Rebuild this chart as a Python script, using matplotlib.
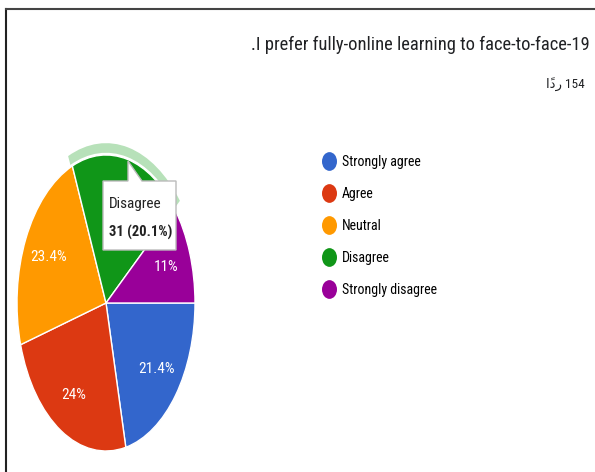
import matplotlib
matplotlib.use('Agg')
import matplotlib.pyplot as plt
from matplotlib import font_manager
from matplotlib.patches import Wedge, Polygon
from matplotlib.lines import Line2D
from matplotlib.path import Path
import numpy as np

# survey answers (154 responses)
categories = ['Strongly agree', 'Agree', 'Neutral', 'Disagree', 'Strongly disagree']
counts = [33, 37, 36, 31, 17]
pct_labels = ['21.4%', '24%', '23.4%', '', '11%']
colors = ['#3366cc', '#dc3912', '#ff9900', '#109618', '#990099']
title = '.I prefer fully-online learning to face-to-face-19'
# Arabic word written in visual (left-to-right) order, matplotlib does no bidi
arabic_word = '\u0627\u064b\u062f\u0631'
responses = arabic_word + ' 154'
tip_name = 'Disagree'
tip_value = '31 (20.1%)'
highlight = 3

# pick a condensed sans if one is there
installed = set(f.name for f in font_manager.fontManager.ttflist)
main_font = 'DejaVu Sans'
for name in ['Roboto Condensed', 'Barlow Condensed', 'Liberation Sans Narrow']:
    if name in installed:
        main_font = name
        break
plt.rcParams['font.family'] = [main_font, 'DejaVu Sans']

W, H = 595, 472
fig = plt.figure(figsize=(W / 100, H / 100), dpi=100)


def fx(x):
    return x / W


def fy(y):
    return 1 - y / H


# pie is drawn squashed (ellipse) like the screenshot
ax = fig.add_axes([fx(17), fy(451), 178 / W, 296 / H])
wedges, _ = ax.pie(counts, colors=colors, startangle=0, counterclock=False,
                   wedgeprops=dict(edgecolor='white', linewidth=1))
ax.set_aspect('auto')
ax.set_xlim(-1, 1)
ax.set_ylim(-1, 1)

for w, lab in zip(wedges, pct_labels):
    if not lab:
        continue
    ang = np.deg2rad((w.theta1 + w.theta2) / 2)
    ax.text(0.72 * np.cos(ang), 0.72 * np.sin(ang), lab, color='white',
            fontsize=11, ha='center', va='center')

# hover ring on the selected slice
hw = wedges[highlight]
ring = Wedge((0, 0), 1.08, hw.theta1, hw.theta2 + 1, width=0.065,
             facecolor='#b7e1b9', edgecolor='none', clip_on=False)
ax.add_patch(ring)

# legend with squashed dots
dot = Path(Path.unit_circle().vertices * [0.8, 1.0], Path.unit_circle().codes)
handles = [Line2D([], [], linestyle='none', marker=dot, markersize=13.5,
                  markerfacecolor=c, markeredgecolor='none') for c in colors]
fig.legend(handles, categories, loc='upper left', bbox_to_anchor=(fx(320), fy(155)),
           frameon=False, fontsize=10, handletextpad=0.35, labelspacing=1.3,
           handlelength=1.25, borderaxespad=0, borderpad=0)

# title and response count
fig.text(fx(590), fy(50), title, ha='right', va='baseline', fontsize=13.3, color='#202124')
fig.text(fx(585), fy(88), responses, ha='right', va='baseline', fontsize=9.5, color='#202124')

# tooltip
box = [(103, 181), (128, 181), (128, 161), (142, 181), (176, 181), (176, 250), (103, 250)]
fig.add_artist(Polygon([(fx(x), fy(y)) for x, y in box], closed=True,
                       transform=fig.transFigure, facecolor='white',
                       edgecolor='#bbbbbb', linewidth=1))
fig.text(fx(109), fy(208), tip_name, fontsize=11, color='#222222', va='baseline')
fig.text(fx(109), fy(237), tip_value, fontsize=10.5, color='#222222',
         fontweight='bold', va='baseline')

# screenshot frame
fig.add_artist(Line2D([fx(6), fx(6)], [fy(9), 0], transform=fig.transFigure,
                      color='#222222', linewidth=1.5))
fig.add_artist(Line2D([fx(6), 1], [fy(9), fy(9)], transform=fig.transFigure,
                      color='#444444', linewidth=1.5))

fig.savefig('out.png', dpi=100)
